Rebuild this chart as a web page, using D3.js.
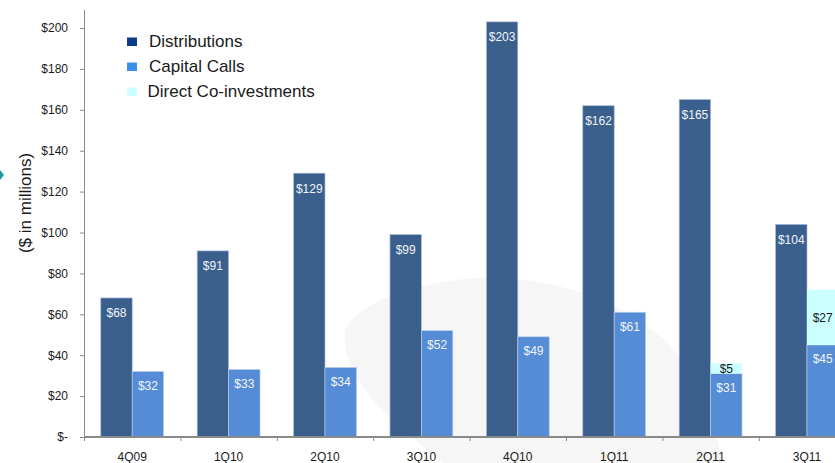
<!DOCTYPE html>
<html>
<head>
<meta charset="utf-8">
<script src="https://cdn.jsdelivr.net/npm/d3@7"></script>
<style>
  html, body { margin: 0; padding: 0; background: #fff; }
  svg { display: block; font-family: "Liberation Sans", Arial, sans-serif; }
</style>
</head>
<body>
<svg id="chart" width="835" height="463"></svg>
<script>
// Quarterly cash flows ($ in millions)
const quarters = ["4Q09", "1Q10", "2Q10", "3Q10", "4Q10", "1Q11", "2Q11", "3Q11"];
const distributions = [68, 91, 129, 99, 203, 162, 165, 104];
const capitalCalls = [32, 33, 34, 52, 49, 61, 31, 45];
const coInvestments = [0, 0, 0, 0, 0, 0, 5, 27];
const yTicks = [0, 20, 40, 60, 80, 100, 120, 140, 160, 180, 200];
const legendLabels = ["Distributions", "Capital Calls", "Direct Co-investments"];

const colors = {
  dist: "#3a5f8c",
  calls: "#558cd5",
  coinv: "#ccffff",
  legendDist: "#0b3c89",
  legendCalls: "#3d8ee8",
  legendCoinv: "#ccffff",
  axis: "#8a8a8a",
  text: "#1a1a1a"
};

const svg = d3.select("#chart");

// Faint decorative swoosh in the background
svg.append("path")
  .attr("d", "M 443,463 C 390,420 340,380 345,330 C 360,300 420,282 475,278 C 560,275 630,305 670,345 C 700,380 715,420 722,463 Z")
  .attr("fill", "#f6f6f6");

// Small teal marker at the left edge
svg.append("path")
  .attr("d", "M 0,170 L 4,175 L 0,180 Z")
  .attr("fill", "#1a9ba0");

const step = 96.4;
const x0 = d3.scaleBand()
  .domain(quarters)
  .range([84, 84 + step * quarters.length])
  .paddingInner(0.348)
  .paddingOuter(0.174);

const x1 = d3.scaleBand()
  .domain(["dist", "calls"])
  .range([0, x0.bandwidth()]);

const y = d3.scaleLinear()
  .domain([0, 210])
  .range([437, 437 - 210 * 2.045]);

const rows = quarters.map((q, i) => ({
  q, dist: distributions[i], calls: capitalCalls[i], coinv: coInvestments[i]
}));

const g = svg.append("g");

// Distribution bars
g.selectAll(".dist").data(rows).join("rect")
  .attr("class", "dist")
  .attr("x", d => x0(d.q) + x1("dist"))
  .attr("width", x1.bandwidth())
  .attr("y", d => y(d.dist))
  .attr("height", d => y(0) - y(d.dist))
  .attr("fill", colors.dist)
  .attr("stroke", "#a9bedc")
  .attr("stroke-width", 0.7);

// Capital call bars
g.selectAll(".calls").data(rows).join("rect")
  .attr("class", "calls")
  .attr("x", d => x0(d.q) + x1("calls"))
  .attr("width", x1.bandwidth())
  .attr("y", d => y(d.calls))
  .attr("height", d => y(0) - y(d.calls))
  .attr("fill", colors.calls)
  .attr("stroke", "#b7cdec")
  .attr("stroke-width", 0.7);

// Co-investments stacked on top of capital calls
const coRows = rows.filter(d => d.coinv > 0);
g.selectAll(".coinv").data(coRows).join("rect")
  .attr("class", "coinv")
  .attr("x", d => x0(d.q) + x1("calls"))
  .attr("width", x1.bandwidth())
  .attr("y", d => y(d.calls + d.coinv))
  .attr("height", d => y(d.calls) - y(d.calls + d.coinv))
  .attr("fill", colors.coinv);

// Value labels
const labelFont = 12;
g.selectAll(".dlab").data(rows).join("text")
  .attr("x", d => x0(d.q) + x1("dist") + x1.bandwidth() / 2)
  .attr("y", d => y(d.dist) + 19.5)
  .attr("text-anchor", "middle")
  .attr("font-size", labelFont)
  .attr("fill", "#f2f5fa")
  .text(d => "$" + d.dist);

g.selectAll(".clab").data(rows).join("text")
  .attr("x", d => x0(d.q) + x1("calls") + x1.bandwidth() / 2)
  .attr("y", d => y(d.calls) + 18.5)
  .attr("text-anchor", "middle")
  .attr("font-size", labelFont)
  .attr("fill", "#f2f5fa")
  .text(d => "$" + d.calls);

g.selectAll(".colab").data(coRows).join("text")
  .attr("x", d => x0(d.q) + x1("calls") + x1.bandwidth() / 2)
  .attr("y", d => (y(d.calls) + y(d.calls + d.coinv)) / 2 + 4.7)
  .attr("text-anchor", "middle")
  .attr("font-size", labelFont)
  .attr("fill", colors.text)
  .text(d => "$" + d.coinv);

// Y axis
const yAxis = d3.axisLeft(y)
  .tickValues(yTicks)
  .tickSize(4)
  .tickPadding(12)
  .tickFormat(v => v === 0 ? "$-" : "$" + v);

const yg = svg.append("g").attr("transform", "translate(84,0)").call(yAxis);
yg.select(".domain").remove();
yg.selectAll(".tick line").attr("stroke", colors.axis);
yg.selectAll(".tick text")
  .attr("font-size", 12)
  .attr("font-family", "Liberation Sans, Arial, sans-serif")
  .attr("fill", colors.text);
svg.append("line")
  .attr("x1", 84.5).attr("x2", 84.5)
  .attr("y1", 10).attr("y2", 437)
  .attr("stroke", colors.axis).attr("stroke-width", 1);

// X axis: baseline, boundary ticks, category labels
svg.append("line")
  .attr("x1", 84).attr("x2", 835)
  .attr("y1", 437).attr("y2", 437)
  .attr("stroke", colors.axis).attr("stroke-width", 2);

const bounds = quarters.map(q => x0(q) - x0.step() * x0.paddingOuter());
svg.selectAll(".xtick").data(bounds).join("line")
  .attr("x1", d => d + 0.5).attr("x2", d => d + 0.5)
  .attr("y1", 437).attr("y2", 441)
  .attr("stroke", colors.axis).attr("stroke-width", 1);

svg.selectAll(".xlab").data(quarters).join("text")
  .attr("x", q => x0(q) + x0.bandwidth() / 2)
  .attr("y", 461)
  .attr("text-anchor", "middle")
  .attr("font-size", 12)
  .attr("fill", colors.text)
  .text(q => q);

// Y axis title
svg.append("text")
  .attr("transform", "translate(31,203) rotate(-90)")
  .attr("text-anchor", "middle")
  .attr("font-size", 17)
  .attr("fill", colors.text)
  .text("($ in millions)");

// Legend
const legendColors = [colors.legendDist, colors.legendCalls, colors.legendCoinv];
const leg = svg.append("g");
legendLabels.forEach((lab, i) => {
  leg.append("rect")
    .attr("x", 127).attr("y", 37.5 + i * 25)
    .attr("width", 10).attr("height", 8.5)
    .attr("fill", legendColors[i]);
  leg.append("text")
    .attr("x", i === 2 ? 147.5 : 149)
    .attr("y", 47 + i * 25)
    .attr("font-size", 17)
    .attr("fill", colors.text)
    .text(lab);
});
</script>
</body>
</html>
